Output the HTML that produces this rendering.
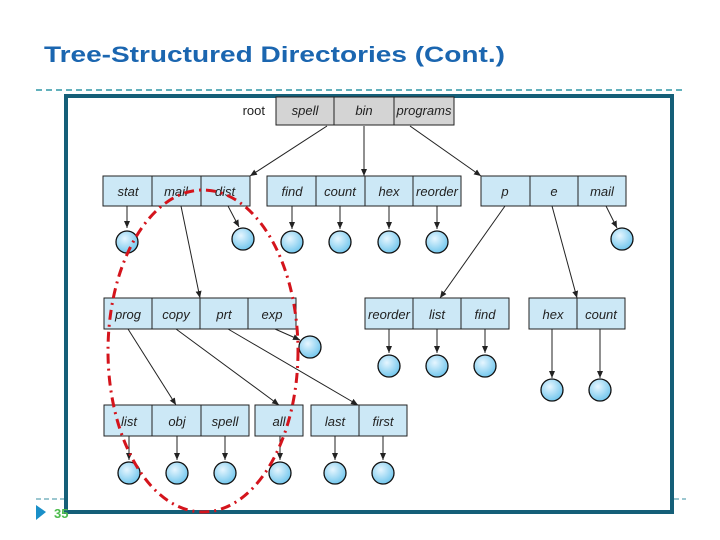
<!DOCTYPE html>
<html><head><style>
html,body{margin:0;padding:0;background:#fff;width:720px;height:540px;overflow:hidden}
svg{display:block}
text{font-family:"Liberation Sans",sans-serif}
.b{fill:#cce8f6;stroke:#222;stroke-width:1}
.g{fill:#d4d4d4;stroke:#222;stroke-width:1}
.t{font-size:13px;font-style:italic;fill:#222;text-anchor:middle}
.c{fill:url(#cg);stroke:#111;stroke-width:1.3}
.a{stroke:#222;stroke-width:1;fill:none;marker-end:url(#ar)}
</style></head><body>
<svg width="720" height="540" viewBox="0 0 720 540">
<defs>
<radialGradient id="cg" cx="40%" cy="35%" r="70%"><stop offset="0" stop-color="#e6f6ff"/><stop offset="1" stop-color="#6cc4ec"/></radialGradient>
<marker id="ar" markerWidth="8" markerHeight="8" refX="7" refY="4" orient="auto" markerUnits="userSpaceOnUse"><path d="M0,1 L7,4 L0,7 Z" fill="#222"/></marker>
</defs>
<text x="44" y="62" font-size="22" font-weight="bold" fill="#1b66b0" textLength="461" lengthAdjust="spacingAndGlyphs">Tree-Structured Directories (Cont.)</text>
<line x1="36" y1="90" x2="686" y2="90" stroke="#2e97a6" stroke-width="1.5" stroke-dasharray="6,4"/>
<line x1="36" y1="499" x2="64" y2="499" stroke="#3a8fa0" stroke-width="1" stroke-dasharray="5,3"/>
<line x1="674" y1="499" x2="686" y2="499" stroke="#3a8fa0" stroke-width="1" stroke-dasharray="5,3"/>
<rect x="66" y="96" width="606" height="416" fill="#fff" stroke="#155f78" stroke-width="4"/>
<path d="M36,505 L46,512 L36,520 Z" fill="#1a8fc8"/>
<text x="54" y="518" font-size="13" font-weight="bold" fill="#4cbb4c">35</text>

<text x="265" y="115" font-size="13" fill="#222" text-anchor="end">root</text>
<rect class="g" x="276" y="97" width="58" height="28"/><rect class="g" x="334" y="97" width="60" height="28"/><rect class="g" x="394" y="97" width="60" height="28"/>
<text class="t" x="305" y="115">spell</text><text class="t" x="364" y="115">bin</text><text class="t" x="424" y="115">programs</text>

<g>
<rect class="b" x="103" y="176" width="49" height="30"/><rect class="b" x="152" y="176" width="49" height="30"/><rect class="b" x="201" y="176" width="49" height="30"/>
<rect class="b" x="267" y="176" width="49" height="30"/><rect class="b" x="316" y="176" width="49" height="30"/><rect class="b" x="365" y="176" width="48" height="30"/><rect class="b" x="413" y="176" width="48" height="30"/>
<rect class="b" x="481" y="176" width="49" height="30"/><rect class="b" x="530" y="176" width="48" height="30"/><rect class="b" x="578" y="176" width="48" height="30"/>
<text class="t" x="128" y="196">stat</text><text class="t" x="176" y="196">mail</text><text class="t" x="225" y="196">dist</text>
<text class="t" x="292" y="196">find</text><text class="t" x="340" y="196">count</text><text class="t" x="389" y="196">hex</text><text class="t" x="437" y="196">reorder</text>
<text class="t" x="505" y="196">p</text><text class="t" x="554" y="196">e</text><text class="t" x="602" y="196">mail</text>
</g>
<line class="a" x1="327" y1="126" x2="250" y2="176"/>
<line class="a" x1="364" y1="126" x2="364" y2="176"/>
<line class="a" x1="410" y1="126" x2="481" y2="176"/>

<line class="a" x1="127" y1="206" x2="127" y2="228"/>
<line class="a" x1="228" y1="206" x2="239" y2="227"/>
<line class="a" x1="292" y1="206" x2="292" y2="229"/>
<line class="a" x1="340" y1="206" x2="340" y2="229"/>
<line class="a" x1="389" y1="206" x2="389" y2="229"/>
<line class="a" x1="437" y1="206" x2="437" y2="229"/>
<line class="a" x1="606" y1="206" x2="617" y2="228"/>
<circle class="c" cx="127" cy="242" r="11"/><circle class="c" cx="243" cy="239" r="11"/><circle class="c" cx="292" cy="242" r="11"/><circle class="c" cx="340" cy="242" r="11"/><circle class="c" cx="389" cy="242" r="11"/><circle class="c" cx="437" cy="242" r="11"/><circle class="c" cx="622" cy="239" r="11"/>

<line class="a" x1="181" y1="206" x2="200" y2="298"/>
<line class="a" x1="505" y1="206" x2="440" y2="298"/>
<line class="a" x1="552" y1="206" x2="577" y2="298"/>

<rect class="b" x="104" y="298" width="48" height="31"/><rect class="b" x="152" y="298" width="48" height="31"/><rect class="b" x="200" y="298" width="48" height="31"/><rect class="b" x="248" y="298" width="48" height="31"/>
<rect class="b" x="365" y="298" width="48" height="31"/><rect class="b" x="413" y="298" width="48" height="31"/><rect class="b" x="461" y="298" width="48" height="31"/>
<rect class="b" x="529" y="298" width="48" height="31"/><rect class="b" x="577" y="298" width="48" height="31"/>
<text class="t" x="128" y="319">prog</text><text class="t" x="176" y="319">copy</text><text class="t" x="224" y="319">prt</text><text class="t" x="272" y="319">exp</text>
<text class="t" x="389" y="319">reorder</text><text class="t" x="437" y="319">list</text><text class="t" x="485" y="319">find</text>
<text class="t" x="553" y="319">hex</text><text class="t" x="601" y="319">count</text>

<line class="a" x1="275" y1="329" x2="300" y2="340"/>
<circle class="c" cx="310" cy="347" r="11"/>
<line class="a" x1="389" y1="329" x2="389" y2="353"/><line class="a" x1="437" y1="329" x2="437" y2="353"/><line class="a" x1="485" y1="329" x2="485" y2="353"/>
<line class="a" x1="552" y1="329" x2="552" y2="378"/><line class="a" x1="600" y1="329" x2="600" y2="378"/>
<circle class="c" cx="389" cy="366" r="11"/><circle class="c" cx="437" cy="366" r="11"/><circle class="c" cx="485" cy="366" r="11"/>
<circle class="c" cx="552" cy="390" r="11"/><circle class="c" cx="600" cy="390" r="11"/>

<line class="a" x1="128" y1="329" x2="176" y2="405"/>
<line class="a" x1="176" y1="329" x2="279" y2="405"/>
<line class="a" x1="228" y1="329" x2="358" y2="405"/>

<rect class="b" x="104" y="405" width="48" height="31"/><rect class="b" x="152" y="405" width="49" height="31"/><rect class="b" x="201" y="405" width="48" height="31"/>
<rect class="b" x="255" y="405" width="48" height="31"/>
<rect class="b" x="311" y="405" width="48" height="31"/><rect class="b" x="359" y="405" width="48" height="31"/>
<text class="t" x="129" y="426">list</text><text class="t" x="177" y="426">obj</text><text class="t" x="225" y="426">spell</text><text class="t" x="279" y="426">all</text><text class="t" x="335" y="426">last</text><text class="t" x="383" y="426">first</text>
<line class="a" x1="129" y1="436" x2="129" y2="460"/><line class="a" x1="177" y1="436" x2="177" y2="460"/><line class="a" x1="225" y1="436" x2="225" y2="460"/><line class="a" x1="280" y1="436" x2="280" y2="460"/><line class="a" x1="335" y1="436" x2="335" y2="460"/><line class="a" x1="383" y1="436" x2="383" y2="460"/>
<circle class="c" cx="129" cy="473" r="11"/><circle class="c" cx="177" cy="473" r="11"/><circle class="c" cx="225" cy="473" r="11"/><circle class="c" cx="280" cy="473" r="11"/><circle class="c" cx="335" cy="473" r="11"/><circle class="c" cx="383" cy="473" r="11"/>

<ellipse cx="203" cy="351" rx="95" ry="161" fill="none" stroke="#d4141c" stroke-width="3" stroke-dasharray="10,5,2,5"/>
</svg>
</body></html>
